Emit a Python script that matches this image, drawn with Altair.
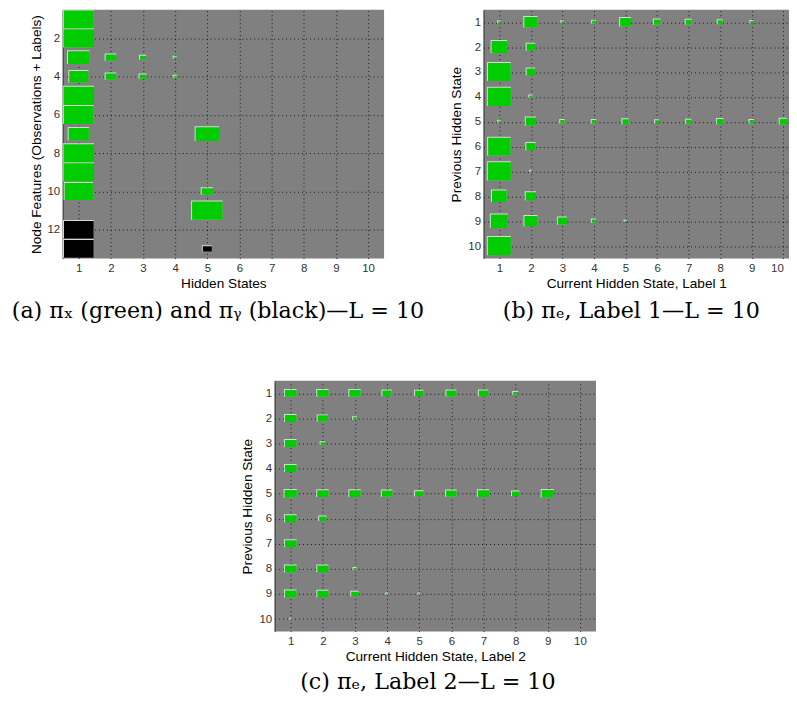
import altair as alt
import numpy as np
import pandas as pd

# ---------------- data ----------------
# (a) pi_x (green, kind "x") and pi_y (black, kind "y"); rows = node features, cols = hidden states
a_rows = [1, 2, 3, 3, 3, 3, 4, 4, 4, 4, 5, 6, 7, 7, 8, 9, 10, 10, 11, 12, 13, 13]
a_cols = [1, 1, 1, 2, 3, 4, 1, 2, 3, 4, 1, 1, 1, 5, 1, 1, 1, 5, 5, 1, 1, 5]
a_vals = [0.96, 1.0, 0.50, 0.12, 0.04, 0.01, 0.39, 0.12, 0.054, 0.011, 1.0, 0.96,
          0.44, 0.59, 1.0, 1.0, 0.86, 0.136, 1.0, 0.94, 0.94, 0.087]
a_kind = ["x"] * 19 + ["y"] * 3

# (b) pi_e, label 1; rows = previous hidden state, cols = current hidden state
b_rows = [1] * 9 + [2, 2, 3, 3, 4, 4] + [5] * 10 + [6, 6, 7, 7, 8, 8, 9, 9, 9, 9, 9, 10]
b_cols = [1, 2, 3, 4, 5, 6, 7, 8, 9, 1, 2, 1, 2, 1, 2, 1, 2, 3, 4, 5, 6, 7, 8, 9, 10,
          1, 2, 1, 2, 1, 2, 1, 2, 3, 4, 5, 1]
b_vals = [0.011, 0.31, 0.011, 0.026, 0.21, 0.078, 0.064, 0.046, 0.014,
          0.43, 0.13, 0.92, 0.13, 0.95, 0.018,
          0.009, 0.19, 0.035, 0.035, 0.071, 0.026, 0.046, 0.078, 0.035, 0.094,
          0.90, 0.15, 0.95, 0.004, 0.39, 0.19, 0.52, 0.30, 0.15, 0.03, 0.0064, 0.95]

# (c) pi_e, label 2
c_rows = [1] * 8 + [2, 2, 2, 3, 3, 4] + [5] * 9 + [6, 6, 7, 8, 8, 8, 9, 9, 9, 9, 9, 10]
c_cols = [1, 2, 3, 4, 5, 6, 7, 8, 1, 2, 3, 1, 2, 1, 1, 2, 3, 4, 5, 6, 7, 8, 9,
          1, 2, 1, 1, 2, 3, 1, 2, 3, 4, 5, 1]
c_vals = [0.23, 0.22, 0.22, 0.15, 0.12, 0.17, 0.15, 0.04,
          0.23, 0.18, 0.026, 0.23, 0.035, 0.23,
          0.26, 0.22, 0.22, 0.19, 0.12, 0.19, 0.22, 0.094, 0.26,
          0.23, 0.094, 0.23, 0.23, 0.21, 0.018, 0.23, 0.21, 0.094, 0.0064, 0.0044, 0.003]

x_ticks = list(range(1, 11))
a_y_ticks = [2, 4, 6, 8, 10, 12]
pe_y_ticks = list(range(1, 11))

GREEN = "#00cc00"
BG = "#808080"
SANS = "Liberation Sans"
SERIF = "DejaVu Serif"


def frame(rows, cols, vals, kinds, fw, fh):
    df = pd.DataFrame({"row": rows, "col": cols, "p": vals, "kind": kinds})
    s = np.sqrt(df["p"])
    df["x1"] = df["col"] - fw * s / 2
    df["x2"] = df["col"] + fw * s / 2
    df["y1"] = df["row"] - fh * s / 2
    df["y2"] = df["row"] + fh * s / 2
    return df


def panel(df, nrows, yticks, xtitle, ytitle, caption, width, height, cap_dx,
          xmax=10.5, cap_offset=10):
    xs = alt.Scale(domain=[0.5, xmax], nice=False, zero=False)
    ys = alt.Scale(domain=[0.5, nrows + 0.5], nice=False, zero=False, reverse=True)
    xax = alt.Axis(values=x_ticks, format="d", title=xtitle, grid=True, gridDash=[1, 3],
                   gridColor="#111111", gridOpacity=0.9, domain=False, ticks=False,
                   labelPadding=4, labelFont=SANS, labelFontSize=11.5, labelColor="#333333",
                   titleFont=SANS, titleFontSize=13.7, titleFontWeight="normal",
                   titleColor="black", titlePadding=3, labelAngle=0, labelFlush=8)
    yax = alt.Axis(values=yticks, format="d", title=ytitle, grid=True, gridDash=[1, 3],
                   gridColor="#111111", gridOpacity=0.9, domain=True, domainColor="#3a3a3a",
                   ticks=False, labelPadding=3, labelFont=SANS, labelFontSize=11.5,
                   labelColor="#333333", titleFont=SANS, titleFontSize=13.7,
                   titleFontWeight="normal", titleColor="black", titlePadding=4)
    base = alt.Chart(df).encode(
        x=alt.X("x1:Q", scale=xs, axis=xax),
        x2="x2:Q",
        y=alt.Y("y1:Q", scale=ys, axis=yax),
        y2="y2:Q",
    )
    shadow = base.mark_rect(color="#2b2b2b", xOffset=1, yOffset=1, clip=True)
    light = base.mark_rect(color="#d8d8d8", xOffset=-1, yOffset=-1, clip=True)
    main = base.mark_rect(clip=True).encode(
        color=alt.Color("kind:N", scale=alt.Scale(domain=["x", "y"], range=[GREEN, "#000000"]),
                        legend=None)
    )
    return alt.layer(shadow, light, main).properties(
        width=width, height=height,
        view=alt.ViewBackground(fill=BG, strokeWidth=0),
        title=alt.TitleParams(text=caption, orient="bottom", font=SERIF, fontSize=22.3,
                              fontWeight="normal", color="black", offset=cap_offset,
                              anchor="middle", frame="group", dx=cap_dx),
    )


da = frame(a_rows, a_cols, a_vals, a_kind, 0.95, 0.95)
db = frame(b_rows, b_cols, b_vals, ["x"] * len(b_vals), 0.75, 0.75)
dc = frame(c_rows, c_cols, c_vals, ["x"] * len(c_vals), 0.75, 0.58)

pa = panel(da, 13, a_y_ticks, "Hidden States", "Node Features (Observations + Labels)",
           "(a) πₓ (green) and πᵧ (black)—L = 10", 323, 250, -5.5)
pb = panel(db, 10, pe_y_ticks, "Current Hidden State, Label 1", "Previous Hidden State",
           "(b) πₑ, Label 1—L = 10", 307, 250, -5, xmax=10.18)
pc = panel(dc, 10, pe_y_ticks, "Current Hidden State, Label 2", "Previous Hidden State",
           "(c) πₑ, Label 2—L = 10", 323, 252, -7.5, cap_offset=8)

spacer = alt.Chart(pd.DataFrame({"v": [0]})).mark_point(opacity=0).encode(
    x=alt.value(0), y=alt.value(0)
).properties(width=213, height=10, view=alt.ViewBackground(fill="white", strokeWidth=0))

top = alt.hconcat(pa, pb, spacing=100, bounds="flush")
bottom = alt.hconcat(spacer, pc, spacing=0, bounds="flush")
chart = alt.vconcat(top, bottom, spacing=55).properties(
    padding={"left": 3, "top": 0, "right": 0, "bottom": 0}
).configure(background="white")

chart.save("out.html", embed_options={"renderer": "svg", "actions": False})
